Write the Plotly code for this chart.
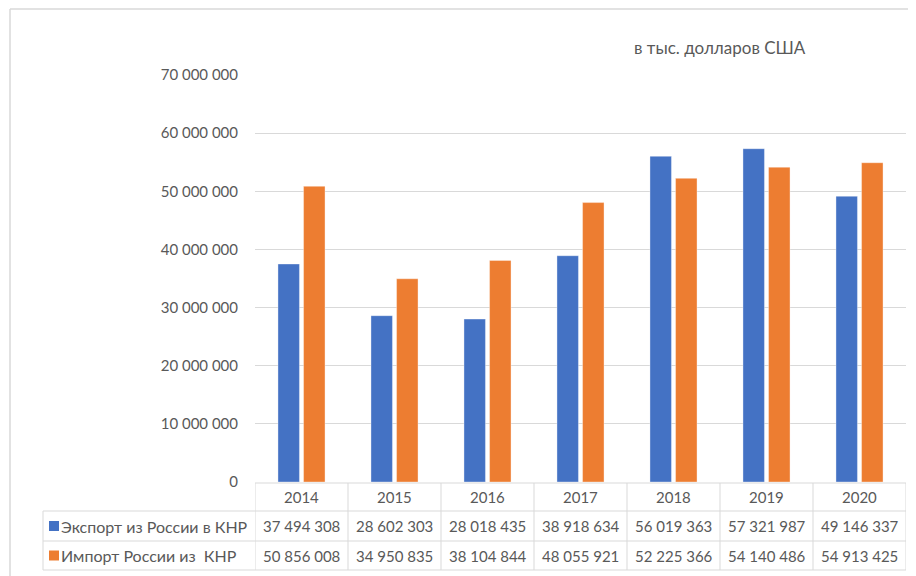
import plotly.graph_objects as go

years = ["2014", "2015", "2016", "2017", "2018", "2019", "2020"]
export_vals = [37494308, 28602303, 28018435, 38918634, 56019363, 57321987, 49146337]
import_vals = [50856008, 34950835, 38104844, 48055921, 52225366, 54140486, 54913425]
export_name = "Экспорт из России в КНР"
import_name = "Импорт России из  КНР"
unit_note = "в тыс. долларов США"

BLUE = "#4472C4"
ORANGE = "#ED7D31"
GRID = "#D9D9D9"
TXT = "#595959"
FONT = "Lato"
FS = 15

# page offset (browser body margin)
OX, OY = 8, 8
W, H = 916 - OX, 576 - OY
# plot area in page pixels
L, R, T, B = 255, 906, 75, 482
PW, PH = R - L, B - T


def px(x):
    return (x - L) / PW


def py(y):
    return (B - y) / PH


def fmt(v):
    return f"{v:,}".replace(",", " ")


fig = go.Figure()
fig.add_trace(go.Bar(x=years, y=export_vals, name=export_name, marker_color=BLUE,
                     marker_line=dict(color="rgba(255,255,255,0.6)", width=0.6)))
fig.add_trace(go.Bar(x=years, y=import_vals, name=import_name, marker_color=ORANGE,
                     marker_line=dict(color="rgba(255,255,255,0.6)", width=0.6)))

shapes = []
line = dict(color=GRID, width=1)
# outer chart border (top & left)
shapes.append(dict(type="line", xref="paper", yref="paper", x0=px(10), x1=px(916), y0=py(9), y1=py(9), line=dict(color=GRID, width=1.5)))
shapes.append(dict(type="line", xref="paper", yref="paper", x0=px(10), x1=px(10), y0=py(9), y1=py(576), line=dict(color=GRID, width=1.5)))

y_head_top, y_r1, y_r2, y_bot = 483, 511, 541, 570
tleft = 43
n = len(years)
# horizontal lines
shapes.append(dict(type="line", xref="x", yref="paper", x0=-0.5, x1=n - 0.5, y0=py(y_head_top), y1=py(y_head_top), line=line))
for yy in (y_r1, y_r2, y_bot):
    shapes.append(dict(type="line", xref="paper", yref="paper", x0=px(tleft), x1=1, y0=py(yy), y1=py(yy), line=line))
# vertical lines
for k in range(n + 1):
    shapes.append(dict(type="line", xref="x", yref="paper", x0=k - 0.5, x1=k - 0.5, y0=py(y_head_top), y1=py(y_bot), line=line))
shapes.append(dict(type="line", xref="paper", yref="paper", x0=px(tleft), x1=px(tleft), y0=py(y_r1), y1=py(y_bot), line=line))

# legend keys
for (yc, col) in (((y_r1 + y_r2) / 2, BLUE), ((y_r2 + y_bot) / 2, ORANGE)):
    shapes.append(dict(type="rect", xref="paper", yref="paper", x0=px(49), x1=px(59),
                       y0=py(yc - 5), y1=py(yc + 5), fillcolor=col, line=dict(width=0)))

ann = []
font = dict(family=FONT, size=FS, color=TXT)
font_lbl = dict(family=FONT, size=16, color=TXT)
font_note = dict(family=FONT, size=17, color=TXT)
for i, yr in enumerate(years):
    ann.append(dict(x=i, y=py((y_head_top + y_r1) / 2), xref="x", yref="paper", text=yr,
                    showarrow=False, font=font, xanchor="center", yanchor="middle"))
    ann.append(dict(x=i, y=py((y_r1 + y_r2) / 2), xref="x", yref="paper", text=fmt(export_vals[i]),
                    showarrow=False, font=font, xanchor="center", yanchor="middle"))
    ann.append(dict(x=i, y=py((y_r2 + y_bot) / 2), xref="x", yref="paper", text=fmt(import_vals[i]),
                    showarrow=False, font=font, xanchor="center", yanchor="middle"))
ann.append(dict(x=px(59), y=py((y_r1 + y_r2) / 2), xref="paper", yref="paper", text=export_name,
                showarrow=False, font=font_lbl, xanchor="left", yanchor="middle"))
ann.append(dict(x=px(59), y=py((y_r2 + y_bot) / 2), xref="paper", yref="paper", text=import_name,
                showarrow=False, font=font_lbl, xanchor="left", yanchor="middle"))
ann.append(dict(x=px(720), y=py(47), xref="paper", yref="paper", text=unit_note,
                showarrow=False, font=font_note, xanchor="center", yanchor="middle"))

fig.update_layout(
    width=W, height=H,
    margin=dict(l=L - OX, r=916 - R, t=T - OY, b=576 - B, pad=0),
    paper_bgcolor="white", plot_bgcolor="white",
    barmode="group", bargap=0.45, bargroupgap=0.16,
    showlegend=False,
    separators=". ",
    font=font,
    shapes=shapes,
    annotations=ann,
    xaxis=dict(type="category", showticklabels=False, showgrid=False, zeroline=False,
               showline=False, range=[-0.5, n - 0.5], fixedrange=True),
    yaxis=dict(range=[0, 70000000], dtick=10000000, tickformat=",d", showgrid=True,
               gridcolor=GRID, gridwidth=1, zeroline=False, showline=False,
               ticks="", ticklabelstandoff=16, tickfont=font, fixedrange=True),
)

fig.write_html("out.html")
